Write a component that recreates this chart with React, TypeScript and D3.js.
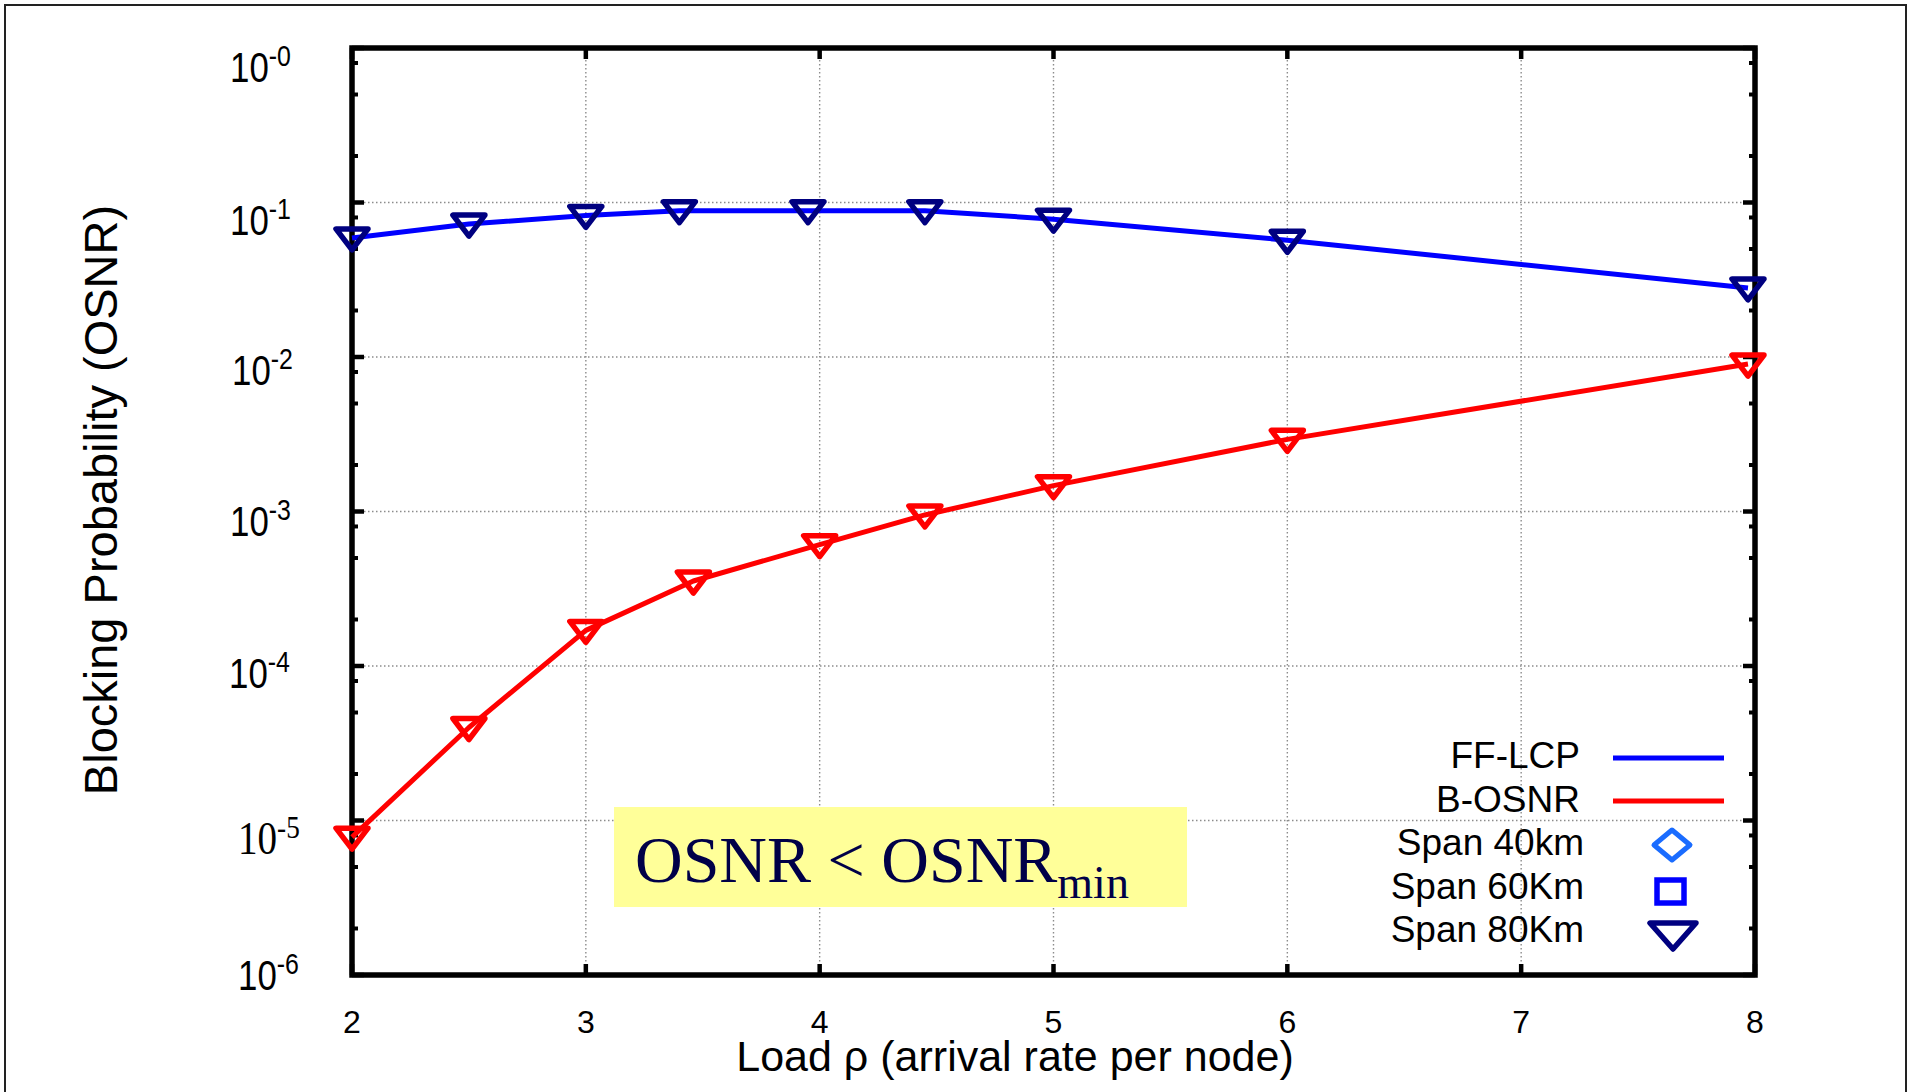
import React from "react";
import * as d3 from "d3";

// ---- data ----
const xTickValues = [2, 3, 4, 5, 6, 7, 8];
const yDecades = [0, -1, -2, -3, -4, -5, -6];
const yTickSup = ["-0", "-1", "-2", "-3", "-4", "-5", "-6"];
const minorMultipliers = [2, 5, 8];

const ffLoads = [2, 2.5, 3, 3.4, 3.95, 4.45, 5, 6, 7.97];
const ffBlocking = [0.059, 0.0725, 0.0825, 0.0885, 0.0885, 0.0885, 0.078, 0.057, 0.028];

const bLoads = [2, 2.5, 3, 3.46, 4, 4.45, 5, 6, 7.97];
const bBlocking = [7.8e-6, 4.0e-5, 1.7e-4, 3.55e-4, 6.1e-4, 9.5e-4, 1.47e-3, 2.93e-3, 9.0e-3];

const legendLines = ["FF-LCP", "B-OSNR"];
const legendMarkers = ["Span 40km", "Span 60Km", "Span 80Km"];

const xLabel = "Load \u03c1 (arrival rate per node)";
const yLabel = "Blocking Probability (OSNR)";

// ---- layout / style ----
const W = 1913;
const H = 1092;
const L = 352, R = 1755, T = 48, B = 975;
const yLabelX = [230, 230, 232, 230, 229, 238, 238];
const yLabelDy = [34, 32, 28, 24, 22, 33, 15];

const SANS = "'Liberation Sans', Arial, Helvetica, sans-serif";
const SERIF = "'Liberation Serif', 'Times New Roman', serif";

function triPath(cx: number, cy: number, hw: number, up: number, down: number) {
  return `M${cx - hw},${cy - up}L${cx + hw},${cy - up}L${cx},${cy + down}Z`;
}

export default function App() {
  const x = d3.scaleLinear().domain([2, 8]).range([L, R]);
  const y = d3.scaleLog().domain([1, 1e-6]).range([T, B]);

  const ffData = ffLoads.map((v, i) => [v, ffBlocking[i]] as [number, number]);
  const bData = bLoads.map((v, i) => [v, bBlocking[i]] as [number, number]);
  const line = d3
    .line<[number, number]>()
    .x((d) => x(d[0]))
    .y((d) => y(d[1]));

  const majorY = yDecades.map((e) => Math.pow(10, e));
  const minorY: number[] = [];
  yDecades.forEach((e) => {
    minorMultipliers.forEach((m) => {
      const v = m * Math.pow(10, e - 1);
      if (v < 1 && v > 1e-6) minorY.push(v);
    });
  });
  const gridX = xTickValues.filter((v) => v > 2 && v < 8);
  const gridY = majorY.filter((v) => v < 1 && v > 1e-6);

  const gridStyle = {
    stroke: "#8c8c8c",
    strokeWidth: 1.4,
    strokeDasharray: "1.5,2.5",
    fill: "none",
  };

  return (
    <svg
      width={W}
      height={H}
      style={{ position: "absolute", left: 0, top: 0, background: "#fff" }}
    >
      <rect x={0} y={0} width={W} height={H} fill="#fff" />
      {/* outer frame */}
      <rect x={5} y={5} width={1901} height={1200} fill="none" stroke="#222" strokeWidth={2} />

      {/* grid */}
      {gridX.map((v) => (
        <line key={"gx" + v} x1={x(v)} x2={x(v)} y1={T + 12} y2={B - 12} style={gridStyle} />
      ))}
      {gridY.map((v, i) => (
        <line key={"gy" + i} x1={L + 12} x2={R - 12} y1={y(v)} y2={y(v)} style={gridStyle} />
      ))}

      {/* text box */}
      <rect x={614} y={807} width={573} height={100} fill="#ffff99" />
      <text x={635} y={882} fontFamily={SERIF} fontSize={66} fill="#000048">
        OSNR &lt; OSNR
        <tspan fontSize={46} dy={16}>min</tspan>
      </text>

      {/* ticks */}
      {majorY.map((v, i) => (
        <g key={"my" + i} stroke="#000" strokeWidth={4.5}>
          <line x1={L} x2={L + 12} y1={y(v)} y2={y(v)} />
          <line x1={R} x2={R - 12} y1={y(v)} y2={y(v)} />
        </g>
      ))}
      {minorY.map((v, i) => (
        <g key={"mn" + i} stroke="#000" strokeWidth={4}>
          <line x1={L} x2={L + 6} y1={y(v)} y2={y(v)} />
          <line x1={R} x2={R - 6} y1={y(v)} y2={y(v)} />
        </g>
      ))}
      {xTickValues.map((v) => (
        <g key={"tx" + v} stroke="#000" strokeWidth={4.5}>
          <line x1={x(v)} x2={x(v)} y1={B} y2={B - 11} />
          <line x1={x(v)} x2={x(v)} y1={T} y2={T + 11} />
        </g>
      ))}

      {/* axis frame */}
      <rect x={L} y={T} width={R - L} height={B - T} fill="none" stroke="#000" strokeWidth={5.5} />

      {/* y tick labels */}
      {majorY.map((v, i) => {
        const serif = i === 5;
        return (
          <g
            key={"yl" + i}
            transform={`translate(${yLabelX[i]},${y(v) + yLabelDy[i]}) scale(${serif ? 0.85 : 0.83},1)`}
          >
            <text
              x={0}
              y={0}
              fontFamily={serif ? SERIF : SANS}
              fontSize={serif ? 46 : 42}
              fill="#000"
            >
              10
              <tspan fontSize={serif ? 32 : 30} dy={-16}>
                {yTickSup[i]}
              </tspan>
            </text>
          </g>
        );
      })}

      {/* x tick labels */}
      {xTickValues.map((v) => (
        <text
          key={"xl" + v}
          x={x(v)}
          y={1033}
          textAnchor="middle"
          fontFamily={SANS}
          fontSize={32}
          fill="#000"
        >
          {v}
        </text>
      ))}

      {/* axis titles */}
      <text
        x={1015}
        y={1071}
        textAnchor="middle"
        fontFamily={SANS}
        fontSize={43}
        fill="#000"
      >
        {xLabel}
      </text>
      <text
        transform="translate(117,500) rotate(-90)"
        textAnchor="middle"
        fontFamily={SANS}
        fontSize={47}
        fill="#000"
      >
        {yLabel}
      </text>

      {/* data lines */}
      <path d={line(ffData) || ""} fill="none" stroke="#0000ff" strokeWidth={5} strokeLinejoin="round" />
      <path d={line(bData) || ""} fill="none" stroke="#ff0000" strokeWidth={5} strokeLinejoin="round" />

      {/* markers */}
      {ffData.map((d, i) => (
        <path
          key={"fm" + i}
          d={triPath(x(d[0]), y(d[1]), 16, 9, 12)}
          fill="none"
          stroke="#000080"
          strokeWidth={5.5}
          strokeLinejoin="round"
        />
      ))}
      {bData.map((d, i) => (
        <path
          key={"bm" + i}
          d={triPath(x(d[0]), y(d[1]), 16, 9, 12)}
          fill="none"
          stroke="#ff0000"
          strokeWidth={5.5}
          strokeLinejoin="round"
        />
      ))}

      {/* legend */}
      {legendLines.map((name, i) => (
        <g key={"ll" + i}>
          <text x={1580} y={768 + i * 44} textAnchor="end" fontFamily={SANS} fontSize={37} fill="#000">
            {name}
          </text>
          <line
            x1={1613}
            x2={1724}
            y1={758 + i * 43}
            y2={758 + i * 43}
            stroke={i === 0 ? "#0000ff" : "#ff0000"}
            strokeWidth={5}
          />
        </g>
      ))}
      {legendMarkers.map((name, i) => (
        <text key={"lm" + i} x={1584} y={855 + i * 43.5} textAnchor="end" fontFamily={SANS} fontSize={37} fill="#000">
          {name}
        </text>
      ))}
      <path
        d={`M1672,830L1690,845L1672,860L1654,845Z`}
        fill="none"
        stroke="#1a6cff"
        strokeWidth={5}
        strokeLinejoin="round"
      />
      <rect x={1657} y={880} width={27} height={23} fill="none" stroke="#0000ff" strokeWidth={5.5} />
      <path d={triPath(1673, 934, 23, 11, 15)} fill="none" stroke="#000080" strokeWidth={5.5} strokeLinejoin="round" />
    </svg>
  );
}
